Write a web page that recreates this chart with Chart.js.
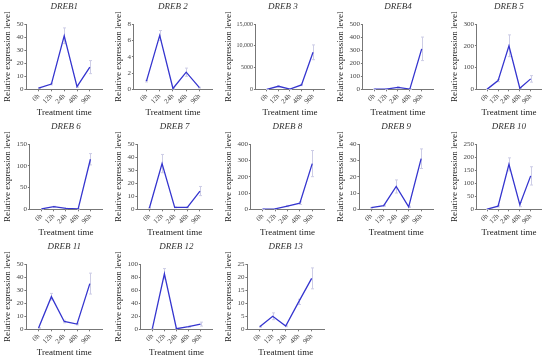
<!DOCTYPE html>
<html><head><meta charset="utf-8">
<script src="https://cdn.jsdelivr.net/npm/chart.js@4.4.1/dist/chart.umd.min.js"></script>
<style>
html,body{margin:0;padding:0;background:#fff;}
#wrap{position:relative;width:550px;height:360px;overflow:hidden;background:#fff;}
#wrap canvas{position:absolute;}
</style></head><body><div id="wrap"></div>
<script>
// ---- data ----
const categories = ['0h', '12h', '24h', '48h', '96h'];
const titles = ['DREB1', 'DREB 2', 'DREB 3', 'DREB4', 'DREB 5', 'DREB 6', 'DREB 7', 'DREB 8', 'DREB 9', 'DREB 10', 'DREB 11', 'DREB 12', 'DREB 13'];
const dreb1 = [1, 4, 41, 2, 17];          const dreb1Err = [0.3, 0.6, 6, 0.5, 5];
const dreb2 = [1, 6.6, 0.1, 2.1, 0.2];    const dreb2Err = [0.1, 0.6, 0.05, 0.5, 0.05];
const dreb3 = [1, 700, 50, 1000, 8500];   const dreb3Err = [5, 120, 20, 150, 1700];
const dreb4 = [1, 2, 15, 2, 310];         const dreb4Err = [0.3, 1, 5, 1, 90];
const dreb5 = [1, 40, 200, 5, 48];        const dreb5Err = [0.3, 5, 50, 2, 15];
const dreb6 = [1, 6, 2, 1, 115];          const dreb6Err = [0.2, 1, 0.5, 0.3, 13];
const dreb7 = [1, 35, 1.5, 1.5, 14];      const dreb7Err = [0.2, 7, 0.3, 0.3, 3.5];
const dreb8 = [1, 3, 20, 38, 280];        const dreb8Err = [0.3, 1, 4, 8, 80];
const dreb9 = [1, 2.3, 14, 1.5, 31];      const dreb9Err = [0.2, 0.4, 4, 0.4, 6];
const dreb10 = [1, 12, 172, 18, 128];     const dreb10Err = [0.3, 3, 25, 8, 35];
const dreb11 = [1, 25, 6, 4, 35];         const dreb11Err = [0.2, 2.5, 1, 0.6, 8];
const dreb12 = [1, 85, 1, 4, 8];          const dreb12Err = [0.2, 8, 0.3, 0.8, 3];
const dreb13 = [1, 5, 1.3, 10.5, 19.5];   const dreb13Err = [0.2, 1.3, 0.3, 1, 4];
const series = [dreb1, dreb2, dreb3, dreb4, dreb5, dreb6, dreb7, dreb8, dreb9, dreb10, dreb11, dreb12, dreb13];
const errors = [dreb1Err, dreb2Err, dreb3Err, dreb4Err, dreb5Err, dreb6Err, dreb7Err, dreb8Err, dreb9Err, dreb10Err, dreb11Err, dreb12Err, dreb13Err];
const yMax  = [50, 8, 15000, 500, 300, 150, 50, 400, 40, 250, 50, 100, 25];
const yStep = [10, 2, 5000, 100, 100, 50, 10, 100, 10, 50, 10, 20, 5];
const dreb3TickLabels = ['0', '5000', '10,000', '15,000'];
const yTitle = 'Relative expression level';
const xTitle = 'Treatment time';

// ---- layout ----
const colLeft = [0, 111, 221, 333, 447];
const colRight = [102, 212, 324, 433, 541];
const rowTop = [0, 120, 240];
const SERIF = '"Liberation Serif", "DejaVu Serif", serif';

const errorBars = {
  id: 'errorBars',
  beforeDatasetsDraw(chart, args, opts) {
    const { ctx, scales: { x, y } } = chart;
    const vals = opts.values, err = opts.err;
    ctx.save();
    ctx.strokeStyle = opts.color;
    ctx.lineWidth = 1;
    vals.forEach((v, i) => {
      const px = Math.round(x.getPixelForValue(i)) + 0.5;
      const t = y.getPixelForValue(v + err[i]);
      const b = y.getPixelForValue(Math.max(0, v - err[i]));
      ctx.beginPath();
      ctx.moveTo(px, t); ctx.lineTo(px, b);
      ctx.moveTo(px - 1.5, t); ctx.lineTo(px + 1.5, t);
      ctx.moveTo(px - 1.5, b); ctx.lineTo(px + 1.5, b);
      ctx.stroke();
    });
    ctx.restore();
  }
};

// panel title centred over the plot area
const areaTitle = {
  id: 'areaTitle',
  afterDraw(chart, args, opts) {
    const { ctx, chartArea } = chart;
    ctx.save();
    ctx.font = 'italic 9px ' + SERIF;
    ctx.fillStyle = '#333';
    ctx.textAlign = 'center';
    ctx.textBaseline = 'middle';
    ctx.fillText(opts.text, (chartArea.left + chartArea.right) / 2 + opts.shift, opts.y);
    ctx.restore();
  }
};

const wrap = document.getElementById('wrap');
series.forEach((vals, k) => {
  const col = k % 5, row = Math.floor(k / 5);
  const pr = 3;
  const w = colRight[col] - colLeft[col] + pr;
  const h = 120;
  const cv = document.createElement('canvas');
  cv.width = w; cv.height = h;
  cv.style.left = colLeft[col] + 'px';
  cv.style.top = rowTop[row] + 'px';
  cv.style.width = w + 'px'; cv.style.height = h + 'px';
  wrap.appendChild(cv);
  const isD3 = k === 2;
  new Chart(cv, {
    type: 'line',
    data: { datasets: [{
      data: vals.map((v, i) => ({ x: i, y: v })),
      borderColor: '#3535cf', borderWidth: 1.3, pointRadius: 0, tension: 0, fill: false
    }] },
    plugins: [errorBars, areaTitle],
    options: {
      responsive: false, animation: false, devicePixelRatio: 1,
      layout: { padding: { left: 2.6, right: pr, top: 24, bottom: 1.5 } },
      plugins: {
        legend: { display: false }, tooltip: { enabled: false }, title: { display: false },
        areaTitle: { text: titles[k], y: 7, shift: isD3 ? -7 : 0 },
        errorBars: { values: vals, err: errors[k], color: '#cdcde6' }
      },
      scales: {
        x: {
          type: 'linear', min: -0.95, max: 4.95,
          afterBuildTicks: s => { s.ticks = categories.map((c, i) => ({ value: i })); },
          ticks: { callback: v => categories[v], autoSkip: false, minRotation: 45, maxRotation: 45,
                   font: { family: SERIF, size: 7 }, color: '#444', padding: 1 },
          grid: { drawOnChartArea: false, drawTicks: true, tickLength: 2, color: '#777' },
          border: { display: true, color: '#777', width: 1 },
          title: { display: true, text: xTitle, color: '#222', font: { family: SERIF, size: 9 },
                   padding: { top: 1, bottom: 0 } }
        },
        y: {
          min: 0, max: yMax[k],
          ticks: { stepSize: yStep[k], font: { family: SERIF, size: isD3 ? 6 : 7 }, color: '#444', padding: 1,
                   callback: v => isD3 ? dreb3TickLabels[Math.round(v / yStep[k])] : String(v) },
          grid: { drawOnChartArea: false, drawTicks: true, tickLength: 2, color: '#777' },
          border: { display: true, color: '#777', width: 1 },
          title: { display: true, text: yTitle, color: '#222', font: { family: SERIF, size: 9 },
                   padding: { top: 0, bottom: isD3 ? 1 : 2 } }
        }
      }
    }
  });
});
</script></body></html>
